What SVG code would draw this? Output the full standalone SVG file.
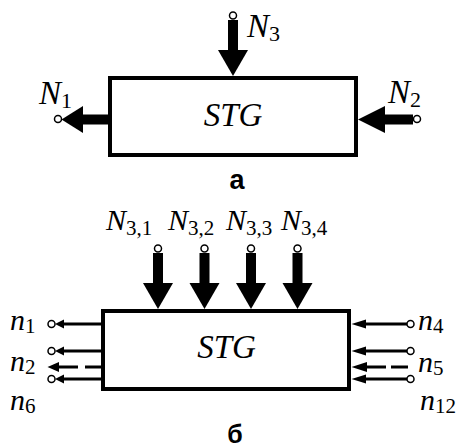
<svg xmlns="http://www.w3.org/2000/svg" width="460" height="447" viewBox="0 0 460 447">
<style>
.box{fill:#fff;stroke:#000;stroke-width:4}
.pin{fill:#fff;stroke:#000;stroke-width:1.5}
.thin{stroke:#000;stroke-width:3;fill:none}
.dash{stroke:#000;stroke-width:3;fill:none;stroke-dasharray:19 7}
.lbl{font-family:"Liberation Serif","Times New Roman",serif;font-style:italic;fill:#000}
.sub{font-style:normal}
.cap{font-family:"Liberation Sans",Arial,sans-serif;font-weight:bold;fill:#000;text-anchor:middle}
</style>
<defs>
<g id="bigdown"><rect x="-5" y="4" width="10" height="31"/><polygon points="-15,34 15,34 0,60"/></g>
</defs>
<rect width="460" height="447" fill="#fff"/>

<g id="stg-a">
<rect class="box" x="110" y="78" width="246" height="77"/>
<text class="lbl" x="233" y="126" font-size="33" text-anchor="middle">STG</text>
</g>
<g id="stg-b">
<rect class="box" x="103" y="311" width="246" height="78"/>
<text class="lbl" x="226.5" y="358" font-size="33" text-anchor="middle">STG</text>
</g>

<g id="connectors">
<!-- a -->
<use href="#bigdown" x="233" y="16"/>
<rect x="82" y="114.5" width="27" height="10"/>
<polygon points="61.5,119.5 83,106 83,133"/>
<rect x="384" y="114.5" width="29" height="10"/>
<polygon points="358,119.5 385,106 385,133"/>
<!-- b top -->
<use href="#bigdown" x="158" y="249"/>
<use href="#bigdown" x="204.5" y="249"/>
<use href="#bigdown" x="251" y="249"/>
<use href="#bigdown" x="297.5" y="249"/>
<!-- b left -->
<line class="thin" x1="62" y1="324" x2="102" y2="324"/>
<polygon points="55,324 64,319.5 64,328.5"/>
<line class="thin" x1="62" y1="351" x2="102" y2="351"/>
<polygon points="55,351 64,346.5 64,355.5"/>
<line class="dash" x1="59" y1="367" x2="101" y2="367"/>
<polygon points="47.5,367 59,362 59,372"/>
<line class="thin" x1="62" y1="379" x2="102" y2="379"/>
<polygon points="55,379 64,374.5 64,383.5"/>
<!-- b right -->
<line class="thin" x1="364" y1="324" x2="407" y2="324"/>
<polygon points="351.5,324 366,319.5 366,328.5"/>
<line class="thin" x1="364" y1="351" x2="407" y2="351"/>
<polygon points="351.5,351 366,346.5 366,355.5"/>
<line class="dash" x1="366" y1="367" x2="408" y2="367" style="stroke-dasharray:20 5"/>
<polygon points="351.5,367 367,362 367,372"/>
<line class="thin" x1="364" y1="379" x2="407" y2="379"/>
<polygon points="351.5,379 366,374.5 366,383.5"/>
</g>

<g id="pins">
<circle class="pin" cx="233" cy="15.5" r="3.5"/>
<circle class="pin" cx="58" cy="119" r="3.5"/>
<circle class="pin" cx="417" cy="119" r="3.5"/>
<circle class="pin" cx="158" cy="248.5" r="3.5"/>
<circle class="pin" cx="204.5" cy="248.5" r="3.5"/>
<circle class="pin" cx="251" cy="248.5" r="3.5"/>
<circle class="pin" cx="297.5" cy="248.5" r="3.5"/>
<circle class="pin" cx="51.5" cy="324" r="3.5"/>
<circle class="pin" cx="51.5" cy="351" r="3.5"/>
<circle class="pin" cx="51.5" cy="379" r="3.5"/>
<circle class="pin" cx="410.5" cy="324" r="3.5"/>
<circle class="pin" cx="410.5" cy="351" r="3.5"/>
<circle class="pin" cx="410.5" cy="379" r="3.5"/>
</g>

<g id="labels">
<text class="lbl" x="247" y="37" font-size="33">N<tspan class="sub" font-size="22" dy="4">3</tspan></text>
<text class="lbl" x="39" y="104" font-size="33">N<tspan class="sub" font-size="22" dy="4">1</tspan></text>
<text class="lbl" x="388" y="103" font-size="33">N<tspan class="sub" font-size="22" dy="4">2</tspan></text>
<text class="lbl" x="106" y="230" font-size="30">N<tspan class="sub" font-size="21" dy="5">3,1</tspan></text>
<text class="lbl" x="168" y="230" font-size="30">N<tspan class="sub" font-size="21" dy="5">3,2</tspan></text>
<text class="lbl" x="226" y="230" font-size="30">N<tspan class="sub" font-size="21" dy="5">3,3</tspan></text>
<text class="lbl" x="281" y="230" font-size="30">N<tspan class="sub" font-size="21" dy="5">3,4</tspan></text>
<text class="lbl" x="10" y="330" font-size="30">n<tspan class="sub" font-size="21" dy="3">1</tspan></text>
<text class="lbl" x="10" y="371" font-size="30">n<tspan class="sub" font-size="21" dy="3">2</tspan></text>
<text class="lbl" x="10" y="410" font-size="30">n<tspan class="sub" font-size="21" dy="3">6</tspan></text>
<text class="lbl" x="418" y="330" font-size="30">n<tspan class="sub" font-size="21" dy="3">4</tspan></text>
<text class="lbl" x="418" y="372" font-size="30">n<tspan class="sub" font-size="21" dy="3">5</tspan></text>
<text class="lbl" x="420" y="410" font-size="30">n<tspan class="sub" font-size="21" dy="3">12</tspan></text>
<text class="cap" x="237" y="189" font-size="27">а</text>
<text class="cap" x="235" y="443" font-size="25">б</text>
</g>
</svg>
